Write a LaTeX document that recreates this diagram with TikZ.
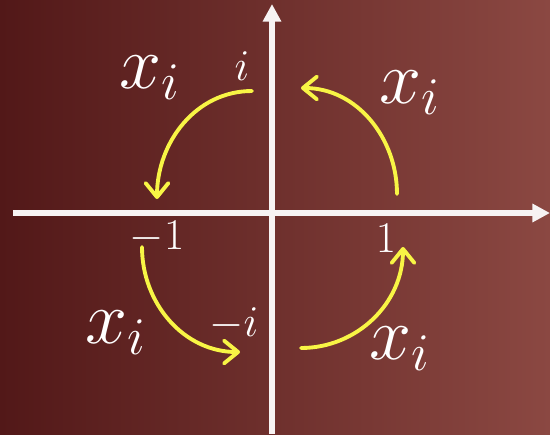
\documentclass[tikz,border=0pt]{standalone}
\usepackage{fix-cm}
\usepackage{tikz}
\usetikzlibrary{arrows.meta,positioning,calc}
\usepackage{xcolor}
\usepackage{amsmath}
\definecolor{BgLeft}{HTML}{521818}
\definecolor{BgMid}{HTML}{742828}
\definecolor{BgRight}{HTML}{8B4842}
\definecolor{AxisWhite}{HTML}{F7F3F3}
\definecolor{TurnYellow}{HTML}{F8F545}
\tikzset{
  axisline/.style={draw=AxisWhite,line width=3pt,-{Triangle[length=10pt,width=10pt]}},
  turn/.style={draw=TurnYellow,line width=2.2pt,line cap=round,
    -{Straight Barb[length=8pt,width=13pt,line cap=round,line join=round]}},
  bigxi/.style={text=white,inner sep=0pt,font=\fontsize{43}{43}\selectfont},
  unitlbl/.style={text=white,inner sep=0pt,font=\fontsize{25}{25}\selectfont}
}

\begin{document}
\begin{tikzpicture}[x=2cm,y=2cm]
\useasboundingbox (-2.72,-2.21) rectangle (2.78,2.13);
\shade[left color=BgLeft,middle color=BgMid,right color=BgRight] (-2.72,-2.21) rectangle (2.78,2.13);
% axes
\coordinate (xstart) at (-2.59,0);
\coordinate (xend) at (2.78,0);
\coordinate (ystart) at (0,-2.21);
\coordinate (yend) at (0,2.09);
\draw[axisline] (xstart) -- (xend);
\draw[axisline] (ystart) -- (yend);
% points on the unit circle
\node[unitlbl] (ione) at (-0.30,1.47) {$i$};
\node[unitlbl] (mone) at (-1.15,-0.24) {$-1$};
\node[unitlbl] (mi) at (-0.38,-1.11) {$-i$};
\node[unitlbl] (one) at (1.14,-0.25) {$1$};
% multiplication by i
\node[bigxi] (xiA) at (-1.22,1.35) {$x_i$};
\node[bigxi] (xiB) at (1.38,1.20) {$x_i$};
\node[bigxi] (xiC) at (-1.56,-1.20) {$x_i$};
\node[bigxi] (xiD) at (1.28,-1.36) {$x_i$};
\coordinate (tlS) at (-0.20,1.22);
\coordinate (tlE) at (-1.15,0.14);
\coordinate (trS) at (1.25,0.19);
\coordinate (trE) at (0.29,1.25);
\coordinate (blS) at (-1.30,-0.34);
\coordinate (blE) at (-0.32,-1.39);
\coordinate (brS) at (0.29,-1.35);
\coordinate (brE) at (1.31,-0.34);
\draw[turn] (tlS) to[out=180,in=90] (tlE);
\draw[turn] (trS) to[out=90,in=0] (trE);
\draw[turn] (blS) to[out=-90,in=180] (blE);
\draw[turn] (brS) to[out=0,in=-90] (brE);
\end{tikzpicture}
\end{document}
